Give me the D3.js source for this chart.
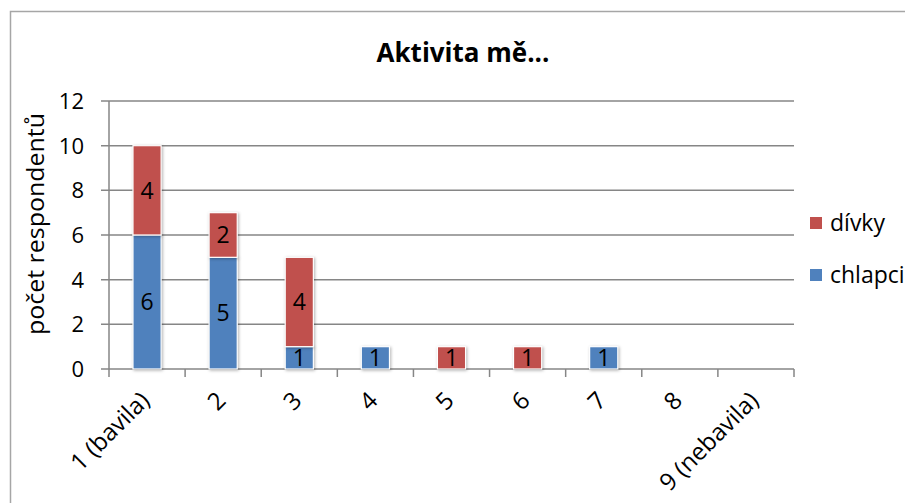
<!DOCTYPE html>
<html>
<head>
<meta charset="utf-8">
<script src="https://cdn.jsdelivr.net/npm/d3@7"></script>
<style>
  body { margin: 0; background: #fff; }
  svg text { font-family: "Open Sans", "Noto Sans", sans-serif; fill: #000; }
</style>
</head>
<body>
<svg id="chart"></svg>
<script>
// chart data
var categories = ["1 (bavila)", "2", "3", "4", "5", "6", "7", "8", "9 (nebavila)"];
var seriesNames = ["chlapci", "dívky"];
var chlapci = [6, 5, 1, 1, 0, 0, 1, 0, 0];
var divky = [4, 2, 4, 0, 1, 1, 0, 0, 0];
var yTicks = [0, 2, 4, 6, 8, 10, 12];

var w = 905,
    h = 503;
var color = d3.scaleOrdinal().domain(seriesNames).range(["#4F81BD", "#C0504D"]);

var svg = d3.select("#chart").attr("width", w).attr("height", h);

// outer frame, cut off on the right and bottom like the source
svg.append("rect")
    .attr("x", 10.5).attr("y", 11.5)
    .attr("width", w).attr("height", h)
    .attr("fill", "none").attr("stroke", "#a6a6a6").attr("stroke-width", 1.5);

var plot = { left: 109, right: 794, top: 101, bottom: 369 };

var x = d3.scaleBand().domain(categories).range([plot.left, plot.right]).paddingInner(0.63).paddingOuter(0.315);
var xOuter = d3.scaleBand().domain(categories).range([plot.left, plot.right]);
var y = d3.scaleLinear().domain([0, 12]).range([plot.bottom, plot.top]);

// gridlines
svg.append("g").selectAll("line").data(yTicks).join("line")
    .attr("x1", plot.left - 8).attr("x2", plot.right)
    .attr("y1", d => y(d)).attr("y2", d => y(d))
    .attr("stroke", "#868686").attr("stroke-width", 1.5);

// y axis line
svg.append("line")
    .attr("x1", plot.left).attr("x2", plot.left)
    .attr("y1", plot.top).attr("y2", plot.bottom)
    .attr("stroke", "#868686").attr("stroke-width", 1.5);

// x axis ticks
var xTickPos = categories.map(c => xOuter(c)).concat([plot.right]);
svg.append("g").selectAll("line").data(xTickPos).join("line")
    .attr("x1", d => d).attr("x2", d => d)
    .attr("y1", plot.bottom).attr("y2", plot.bottom + 8)
    .attr("stroke", "#868686").attr("stroke-width", 1.5);

// y tick labels
svg.append("g").selectAll("text").data(yTicks).join("text")
    .attr("x", 84).attr("y", d => y(d))
    .attr("dy", "0.36em")
    .attr("text-anchor", "end")
    .style("font-size", "22px")
    .text(d => d);

// x labels, rotated
svg.append("g").selectAll("text").data(categories).join("text")
    .attr("text-anchor", "end")
    .attr("transform", d => "translate(" + (xOuter(d) + xOuter.bandwidth() / 2 - 2) + "," + (plot.bottom + 27) + ") rotate(-45)")
    .attr("dy", "0.35em")
    .style("font-size", "24px")
    .text(d => d);

// stacked data
var rows = categories.map((c, i) => ({ cat: c, chlapci: chlapci[i], "dívky": divky[i] }));
var stacked = d3.stack().keys(seriesNames)(rows);

var layer = svg.append("g").selectAll("g").data(stacked).join("g")
    .attr("fill", d => color(d.key));

layer.selectAll("rect").data(d => d.filter(p => p[1] - p[0] > 0)).join("rect")
    .attr("x", d => x(d.data.cat))
    .attr("width", x.bandwidth())
    .attr("y", d => y(d[1]))
    .attr("height", d => y(d[0]) - y(d[1]))
    .attr("stroke", "#fff").attr("stroke-width", 1.2)
    .style("filter", "drop-shadow(1px 1px 1.5px rgba(0,0,0,0.3))");

layer.selectAll("text").data(d => d.filter(p => p[1] - p[0] > 0)).join("text")
    .attr("x", d => x(d.data.cat) + x.bandwidth() / 2)
    .attr("y", d => (y(d[0]) + y(d[1])) / 2)
    .attr("dy", "0.36em")
    .attr("text-anchor", "middle")
    .style("font-size", "23px")
    .text(d => d[1] - d[0]);

// title
svg.append("text")
    .attr("x", 463).attr("y", 62)
    .attr("text-anchor", "middle")
    .style("font-size", "26px").style("font-weight", "bold")
    .text("Aktivita mě...");

// y axis title
svg.append("text")
    .attr("transform", "translate(44,224) rotate(-90)")
    .attr("text-anchor", "middle")
    .attr("textLength", 222).attr("lengthAdjust", "spacingAndGlyphs")
    .style("font-size", "23px")
    .text("počet respondentů");

// legend (dívky on top)
var legendItems = seriesNames.slice().reverse();
var legend = svg.append("g").selectAll("g").data(legendItems).join("g")
    .attr("transform", (d, i) => "translate(810," + (217 + i * 52) + ")");
legend.append("rect")
    .attr("width", 12).attr("height", 12)
    .attr("fill", d => color(d));
legend.append("text")
    .attr("x", 20).attr("y", 6).attr("dy", "0.35em")
    .style("font-size", "23px")
    .text(d => d);
</script>
</body>
</html>
